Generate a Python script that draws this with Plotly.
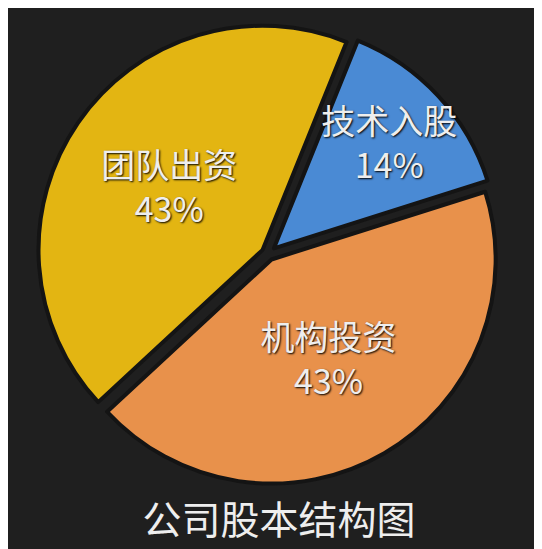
import plotly.graph_objects as go

labels = ["技术入股", "机构投资", "团队出资"]
values = [14, 43, 43]
colors = ["#4A8AD4", "#E8914B", "#E3B512"]
title_text = "公司股本结构图"

fig = go.Figure(go.Pie(
    labels=labels,
    values=values,
    sort=False,
    direction="clockwise",
    rotation=22,
    pull=[0.035, 0.03, 0.03],
    marker=dict(colors=colors, line=dict(color="#141414", width=4)),
    texttemplate="%{label}<br>%{percent:.0%}",
    textposition="inside",
    insidetextorientation="horizontal",
    textfont=dict(family="Noto Sans CJK SC", size=34, color="#EEEEEE",
                  shadow="1px 1px 2px #000"),
    domain=dict(x=[0.035, 0.925], y=[0.13, 0.975]),
    showlegend=False,
    hoverinfo="label+percent",
))

fig.update_layout(
    width=542, height=549,
    paper_bgcolor="#1F1F1F", plot_bgcolor="#1F1F1F",
    margin=dict(l=0, r=0, t=0, b=0),
    uniformtext=dict(minsize=34, mode="show"),
    title=dict(text=title_text, x=0.5, xanchor="center", y=0.066, yanchor="middle",
               font=dict(family="Noto Sans CJK SC", size=39, color="#EEEEEE")),
)

fig.write_html("out.html")
